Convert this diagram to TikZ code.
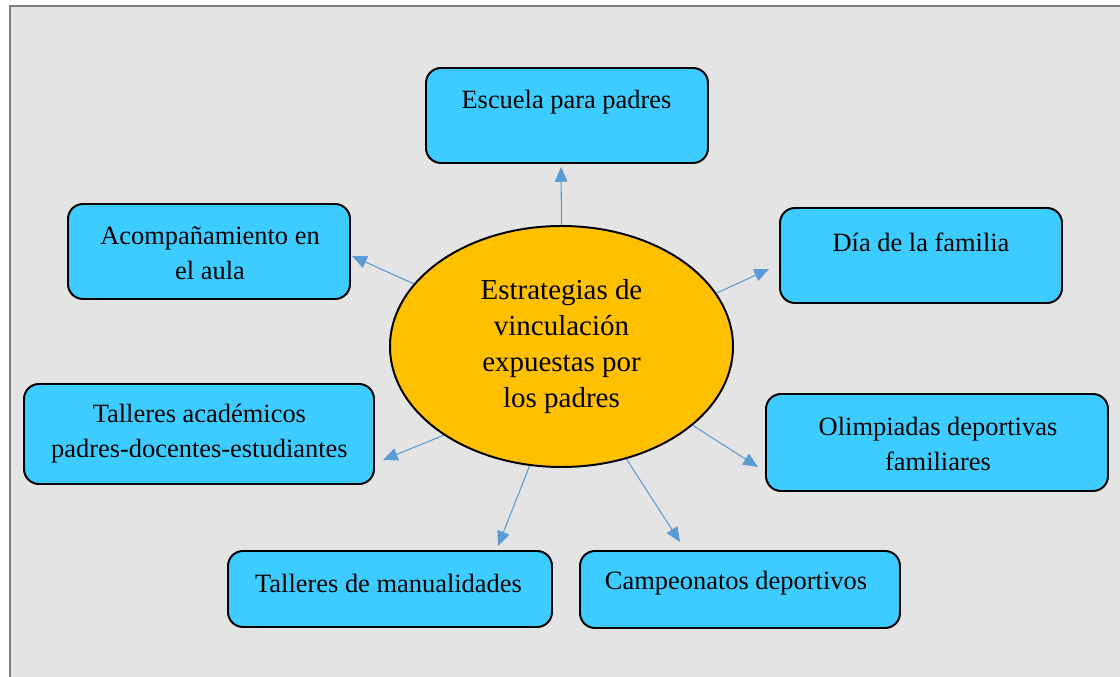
\documentclass[tikz,border=0pt]{standalone}
\usepackage{fontspec}
\setmainfont{Liberation Serif}
\usetikzlibrary{shapes.geometric,arrows.meta}

\definecolor{fondo}{HTML}{E4E4E4}
\definecolor{marco}{HTML}{7F7F7F}
\definecolor{celeste}{HTML}{3DCCFF}
\definecolor{naranja}{HTML}{FFC000}
\definecolor{flechaazul}{HTML}{5B9BD5}

\begin{document}
\begin{tikzpicture}[
		caja/.style={draw=black, fill=celeste, line width=1.4pt, rounded corners=0.375cm, inner sep=0pt},
		texto/.style={align=center, inner sep=0pt, font=\fontsize{18.8}{24.8}\selectfont},
		centro/.style={ellipse, draw=black, fill=naranja, line width=1.4pt, inner sep=0pt, align=center,
			minimum width=8.575cm, minimum height=6.025cm, font=\fontsize{20.6}{25.5}\selectfont},
		flecha/.style={flechaazul, line width=0.75pt, -{Triangle[length=10.5pt, width=9pt]}}
	]
			\useasboundingbox (0, 0) rectangle (28, -16.925);
			\fill[fondo] (0.25, -0.15) rectangle (28, -16.925);
			\draw[marco, line width=1.4pt] (0.26, -16.925) -- (0.26, -0.15) -- (28, -0.15);
			
			% centro
			\node[centro] (estr) at (14.0375, -8.6625) {Estrategias de\\vinculación\\expuestas por\\los padres};
			
			% cajas
			\node[caja, minimum width=7.05cm, minimum height=2.375cm] (escuela) at (14.175, -2.8875) {};
			\node[texto] (escuelaT) at (14.1625, -2.55) {Escuela para padres};
			
			\node[caja, minimum width=7.05cm, minimum height=2.375cm] (acomp) at (5.225, -6.2875) {};
			\node[texto] (acompT) at (5.25, -6.325) {Acompañamiento en\\el aula};
			
			\node[caja, minimum width=7.05cm, minimum height=2.375cm] (familia) at (23.025, -6.3875) {};
			\node[texto] (familiaT) at (23.025, -6.05) {Día de la familia};
			
			\node[caja, minimum width=8.75cm, minimum height=2.5cm] (talleres) at (4.975, -10.85) {};
			\node[texto] (talleresT) at (4.985, -10.85) {Talleres académicos\\padres-docentes-estudiantes};
			
			\node[caja, minimum width=8.55cm, minimum height=2.425cm] (olimp) at (23.425, -11.0625) {};
			\node[texto] (olimpT) at (23.45, -11.1) {Olimpiadas deportivas\\familiares};
			
			\node[caja, minimum width=8.1cm, minimum height=1.9cm] (manual) at (9.75, -14.725) {};
			\node[texto] (manualT) at (9.7125, -14.575) {Talleres de manualidades};
			
			\node[caja, minimum width=8.0cm, minimum height=1.925cm] (campeon) at (18.5, -14.7375) {};
			\node[texto] (campeonT) at (18.4, -14.575) {Campeonatos deportivos};
			
			% puntas de flecha
			\coordinate (tEscuela) at (14.025, -4.175);
			\coordinate (tAcomp) at (8.8, -6.4);
			\coordinate (tFamilia) at (19.225, -6.725);
			\coordinate (tTalleres) at (9.575, -11.5);
			\coordinate (tOlimp) at (18.95, -11.675);
			\coordinate (tManual) at (12.45, -13.65);
			\coordinate (tCampeon) at (17.0, -13.55);
			
			\draw[flecha] (estr.90) -- (tEscuela);
			\draw[flecha] (estr.157.6) -- (tAcomp);
			\draw[flecha] (estr.19.9) -- (tFamilia);
			\draw[flecha] (estr.217.7) -- (tTalleres);
			\draw[flecha] (estr.329.9) -- (tOlimp);
			\draw[flecha] (estr.255.4) -- (tManual);
			\draw[flecha] (estr.300.8) -- (tCampeon);
		\end{tikzpicture}
\end{document}
